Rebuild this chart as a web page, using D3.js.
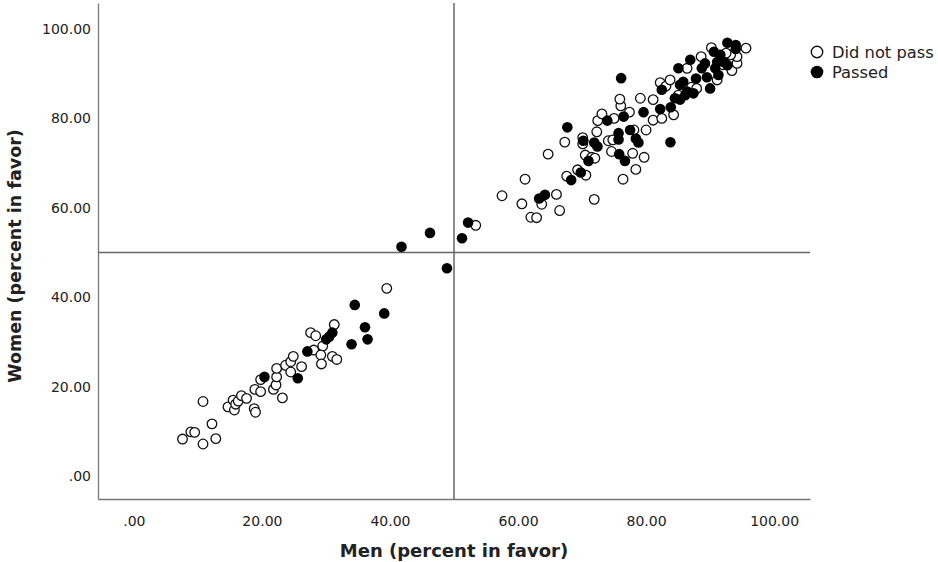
<!DOCTYPE html>
<html>
<head>
<meta charset="utf-8">
<script src="https://cdn.jsdelivr.net/npm/d3@7"></script>
<style>
  body { margin: 0; background: #fff; }
  text { font-family: "DejaVu Sans", sans-serif; fill: #222; }
</style>
</head>
<body>
<div id="chart"></div>
<script>
// men / women percent in favor, split by outcome
var failedMen = [7.6, 8.9, 9.5, 10.8, 10.8, 12.2, 12.8, 14.7, 15.5, 15.7, 15.9, 16.3, 16.8, 17.6, 18.8, 19.0, 18.9, 19.8, 19.8, 21.8,
  22.2, 22.3, 22.3, 23.2, 23.7, 24.5, 24.5, 24.9, 26.2, 27.6, 28.4, 28.1, 29.5, 29.2, 29.3, 31.0, 31.7, 31.3, 39.5, 53.4,
  57.5, 61.1, 60.6, 62.0, 62.9, 63.7, 66.0, 66.5, 64.7, 67.3, 67.6, 69.3, 70.6, 70.1, 70.1, 70.5, 71.5, 72.3, 72.0, 71.9,
  72.45, 73.1, 74.1, 74.8, 74.6, 75.0, 76.05, 75.9, 76.4, 77.4, 77.9, 78.1, 78.4, 79.7, 80.0, 81.1, 82.45, 79.1, 81.1, 82.2,
  83.1, 83.75, 84.3, 85.05, 87.1, 87.9, 91.1, 93.4, 94.2, 94.2, 93.2, 92.5, 90.2, 95.6, 88.6, 86.4, 92.0]
var failedWomen = [8.3, 9.9, 9.8, 7.2, 16.7, 11.7, 8.4, 15.5, 17.0, 14.8, 16.1, 16.8, 18.0, 17.4, 15.1, 14.3, 19.4, 18.9, 21.6, 19.4,
  20.4, 22.2, 24.1, 17.5, 24.8, 23.3, 25.6, 26.8, 24.5, 32.1, 31.4, 28.2, 29.1, 27.1, 25.1, 26.8, 26.1, 33.9, 42.0, 56.1,
  62.7, 66.4, 60.9, 57.9, 57.8, 60.8, 63.0, 59.4, 72.0, 74.7, 67.1, 68.5, 67.3, 75.7, 74.3, 71.8, 71.3, 77.0, 71.1, 61.9,
  79.5, 81.0, 75.0, 75.2, 72.6, 80.0, 82.8, 84.3, 66.4, 81.4, 72.2, 77.4, 68.6, 71.3, 77.4, 79.6, 80.0, 84.5, 84.2, 88.0,
  87.2, 88.6, 80.8, 85.2, 87.0, 86.7, 88.6, 90.7, 92.3, 93.8, 94.2, 94.6, 95.8, 95.7, 93.8, 91.2, 92.0]

var passedMen = [20.4, 25.6, 27.1, 30.05, 30.5, 31.0, 34.0, 34.5, 36.1, 36.5, 39.1, 41.8, 46.25, 48.9, 51.25, 52.2,
  63.3, 64.2, 67.7, 68.3, 69.8, 70.2, 71.0, 71.9, 72.4, 73.95, 75.7, 75.7, 75.8, 76.5, 76.7, 77.5, 78.4, 78.8, 79.6, 82.2,
  83.8, 76.1, 82.45, 83.85, 84.5, 85.3, 85.3, 85.8, 86.4, 87.4, 90.0, 87.8, 89.5, 91.3, 90.8, 91.1, 92.1, 92.7, 91.6, 90.6,
  92.7, 94.0, 94.0, 89.2, 88.7, 86.9, 85.05, 86.1]
var passedWomen = [22.2, 21.9, 27.9, 30.6, 31.2, 32.1, 29.5, 38.3, 33.3, 30.6, 36.4, 51.3, 54.4, 46.5, 53.2, 56.7,
  62.1, 62.9, 78.0, 66.2, 67.9, 75.0, 70.5, 74.6, 73.7, 79.5, 75.3, 76.7, 72.0, 80.4, 70.5, 77.4, 75.5, 74.6, 81.4, 82.1,
  74.65, 89.0, 86.4, 82.5, 84.5, 84.2, 87.5, 88.2, 86.0, 85.6, 86.7, 88.9, 89.2, 89.7, 91.2, 92.6, 92.6, 91.9, 94.2, 94.9,
  96.9, 96.4, 95.5, 92.3, 91.2, 93.1, 91.2, 85.2]

var xTicks = [0, 20, 40, 60, 80, 100]
var yTicks = [0, 20, 40, 60, 80, 100]
var legendLabels = ['Did not pass', 'Passed']
var cutoff = 50

var width = 938
var height = 562
var margin = { top: 3, left: 98, bottom: 63, right: 128 }

var svg = d3.select('#chart').append('svg')
  .attr('width', width)
  .attr('height', height)

var x = d3.scaleLinear()
  .domain([-5.6, 105.6])
  .range([margin.left, width - margin.right])

var y = d3.scaleLinear()
  .domain([-5.1, 105.8])
  .range([height - margin.bottom, margin.top])

var fmt = function (d) { return d3.format('.2f')(d).replace(/^0\./, '.') }

// axes, no tick marks
var gx = svg.append('g')
  .attr('transform', 'translate(0,' + (height - margin.bottom) + ')')
  .call(d3.axisBottom(x).tickValues(xTicks).tickFormat(fmt).tickSize(0).tickPadding(17))
gx.select('.domain').attr('stroke', '#777').attr('stroke-width', 1.3)
gx.selectAll('text').style('font-size', '14px').style('font-family', '"DejaVu Sans", sans-serif').attr('fill', '#222')

var gy = svg.append('g')
  .attr('transform', 'translate(' + margin.left + ',0)')
  .call(d3.axisLeft(y).tickValues(yTicks).tickFormat(fmt).tickSize(0).tickPadding(7))
gy.select('.domain').attr('stroke', '#777').attr('stroke-width', 1.3)
gy.selectAll('text').style('font-size', '14px').style('font-family', '"DejaVu Sans", sans-serif').attr('fill', '#222')

// reference lines at 50%
svg.append('line')
  .attr('x1', x(cutoff)).attr('x2', x(cutoff))
  .attr('y1', y.range()[1]).attr('y2', y.range()[0])
  .attr('stroke', '#666').attr('stroke-width', 1.5)
svg.append('line')
  .attr('x1', x.range()[0]).attr('x2', x.range()[1])
  .attr('y1', y(cutoff)).attr('y2', y(cutoff))
  .attr('stroke', '#666').attr('stroke-width', 1.5)

// points
var failed = failedMen.map(function (m, i) { return { men: m, women: failedWomen[i] } })
var passed = passedMen.map(function (m, i) { return { men: m, women: passedWomen[i] } })

svg.append('g').selectAll('circle')
    .data(failed)
  .enter().append('circle')
    .attr('cx', function (d) { return x(d.men) })
    .attr('cy', function (d) { return y(d.women) })
    .attr('r', 4.8)
    .attr('fill', '#fff')
    .attr('stroke', '#111')
    .attr('stroke-width', 1.3)

svg.append('g').selectAll('circle')
    .data(passed)
  .enter().append('circle')
    .attr('cx', function (d) { return x(d.men) })
    .attr('cy', function (d) { return y(d.women) })
    .attr('r', 5.3)
    .attr('fill', '#000')

// axis titles
svg.append('text')
  .attr('x', (x.range()[0] + x.range()[1]) / 2)
  .attr('y', 557)
  .attr('text-anchor', 'middle')
  .style('font-size', '18px')
  .style('font-weight', 'bold')
  .text('Men (percent in favor)')

svg.append('text')
  .attr('transform', 'translate(21,256) rotate(-90)')
  .attr('text-anchor', 'middle')
  .style('font-size', '17.5px')
  .style('font-weight', 'bold')
  .text('Women (percent in favor)')

// legend
var legend = svg.append('g')
  .attr('transform', 'translate(817,52)')
  .selectAll('g')
    .data(legendLabels)
  .enter().append('g')
    .attr('transform', function (d, i) { return 'translate(0,' + i * 20 + ')' })

legend.append('circle')
  .attr('r', function (d, i) { return i ? 6.3 : 5.7 })
  .attr('fill', function (d, i) { return i ? '#000' : '#fff' })
  .attr('stroke', function (d, i) { return i ? 'none' : '#111' })
  .attr('stroke-width', 1.4)

legend.append('text')
  .attr('x', 15)
  .attr('dy', '0.36em')
  .style('font-size', '16.3px')
  .text(function (d) { return d })
</script>
</body>
</html>
